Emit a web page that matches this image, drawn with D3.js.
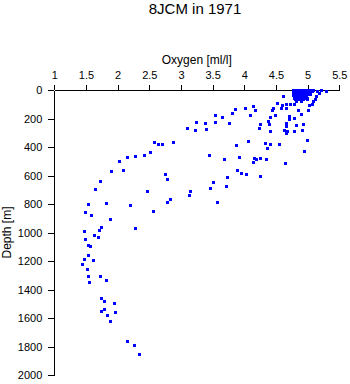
<!DOCTYPE html>
<html>
<head>
<meta charset="utf-8">
<script src="https://cdn.jsdelivr.net/npm/d3@7"></script>
<style>
  html, body { margin: 0; padding: 0; background: #fff; }
  svg { display: block; }
  text { font-family: "Liberation Sans", Arial, Helvetica, sans-serif; fill: #000; }
</style>
</head>
<body>
<svg id="chart" width="350" height="384"></svg>
<script>
const title = "8JCM in 1971";
const xTitle = "Oxygen [ml/l]";
const yTitle = "Depth [m]";
const xTicks = [1, 1.5, 2, 2.5, 3, 3.5, 4, 4.5, 5, 5.5];
const yTicks = [0, 200, 400, 600, 800, 1000, 1200, 1400, 1600, 1800, 2000];

// Oxygen values (ml/l)
const oxygen = [
  // dense surface block
  4.78,4.82,4.86,4.90,4.94,4.98,5.02,5.06,
  4.78,4.82,4.86,4.90,4.94,4.98,5.02,5.07,
  4.78,4.81,4.85,4.89,4.93,4.97,5.01,
  4.79,4.83,4.87,4.91,4.95,4.99,5.03,
  4.78,4.82,4.86,4.90,4.94,4.98,
  4.79,4.84,4.88,4.92,4.97,
  4.80,4.85,4.90,4.95,5.00,
  4.81,4.87,4.93,4.99,
  4.83,4.90,
  // upper right scatter
  5.02,5.10,5.15,5.22,5.29,5.18,5.14,5.12,5.09,5.08,5.03,5.01,5.06,5.04,5.00,5.05,
  4.62,4.52,4.60,4.67,4.73,4.79,4.46,4.44,4.58,4.66,4.86,4.90,4.80,4.71,4.72,4.49,
  4.42,4.38,4.39,4.25,4.67,4.67,4.82,4.93,4.41,4.64,4.68,4.66,4.80,4.92,4.99,4.95,
  4.34,4.41,4.36,4.56,4.24,4.10,4.02,4.15,4.17,3.86,3.82,3.54,3.65,3.77,3.55,3.38,
  3.24,3.10,3.23,3.40,4.06,3.87,3.45,3.68,3.92,4.16,4.20,4.25,4.35,4.15,4.65,3.90,
  3.95,4.04,3.73,4.25,3.52,3.46,3.72,3.15,3.14,3.57,
  // middle branch
  2.58,2.65,2.71,2.88,2.43,2.52,2.76,2.78,2.47,2.83,2.78,1.90,2.09,1.73,1.65,
  2.28,2.16,2.03,
  // deep branch
  1.54,1.82,2.21,2.56,1.50,1.58,1.89,1.75,2.28,1.71,1.47,1.63,1.70,1.49,1.54,1.57,
  1.54,1.47,1.62,1.44,1.52,1.54,1.73,1.82,1.56,1.74,
  1.80,1.95,1.74,1.80,1.97,1.84,1.89,2.16,2.27,2.35
];

// Depth values (m)
const depth = [
  0,0,0,0,0,0,0,0,
  10,10,10,10,10,10,10,10,
  20,20,20,20,20,20,20,
  30,30,30,30,30,30,30,
  40,40,40,40,40,40,
  50,50,50,50,50,
  60,60,60,60,60,
  70,70,70,70,
  80,80,
  5,5,12,5,12,23,47,70,82,100,110,147,7,16,30,35,
  49,96,110,100,100,105,128,142,133,133,142,175,199,189,206,180,
  194,222,239,241,234,258,246,241,293,281,293,307,288,281,351,430,
  374,381,409,381,267,182,128,114,142,135,164,178,192,232,229,234,
  227,269,286,276,360,388,458,486,477,482,486,484,491,512,519,566,
  587,592,613,608,648,690,679,711,739,788,
  367,381,379,370,463,437,594,627,711,765,788,573,568,641,697,
  465,472,505,
  800,795,814,851,858,879,912,964,973,985,996,1020,1034,1050,1088,1097,
  1163,1186,1195,1228,1261,1310,1307,1340,1349,1462,
  1486,1495,1553,1542,1563,1581,1626,1764,1792,1855
];

const svg = d3.select("#chart");
const x = d3.scaleLinear().domain([1, 5.5]).range([54.3, 339.3]);
const y = d3.scaleLinear().domain([0, 2000]).range([90, 375]);

svg.append("text")
  .attr("x", 195).attr("y", 14)
  .attr("text-anchor", "middle")
  .style("font-size", "15px")
  .text(title);

const xAxis = svg.append("g")
  .attr("transform", `translate(0,${y(0)})`)
  .call(d3.axisTop(x).tickValues(xTicks).tickSize(5).tickSizeOuter(0).tickPadding(6)
    .tickFormat(d => String(d)));
xAxis.selectAll("text").style("font-size", "11px").style("font-family", '"Liberation Sans", Arial, sans-serif');

const yAxis = svg.append("g")
  .attr("transform", `translate(${x(1)},0)`)
  .call(d3.axisLeft(y).tickValues(yTicks).tickSize(6).tickSizeOuter(0).tickPadding(6)
    .tickFormat(d => String(d)));
yAxis.selectAll("text").style("font-size", "11px").style("font-family", '"Liberation Sans", Arial, sans-serif');

svg.selectAll(".domain, .tick line").attr("stroke", "#000").attr("stroke-width", 1).attr("shape-rendering", "crispEdges");

svg.append("text")
  .attr("x", (x.range()[0] + x.range()[1]) / 2).attr("y", 64)
  .attr("text-anchor", "middle")
  .style("font-size", "12px")
  .text(xTitle);

svg.append("text")
  .attr("transform", `translate(11,${(y.range()[0] + y.range()[1]) / 2}) rotate(-90)`)
  .attr("text-anchor", "middle")
  .style("font-size", "12px")
  .text(yTitle);

const pts = oxygen.map((o, i) => ({o, d: depth[i]}));
svg.append("g")
  .selectAll("rect")
  .data(pts)
  .join("rect")
  .attr("x", p => Math.round(x(p.o) - 1.5))
  .attr("y", p => Math.round(y(p.d) - 1.5))
  .attr("width", 3)
  .attr("height", 3)
  .attr("fill", "#0000ff")
  .attr("shape-rendering", "crispEdges");
</script>
</body>
</html>
